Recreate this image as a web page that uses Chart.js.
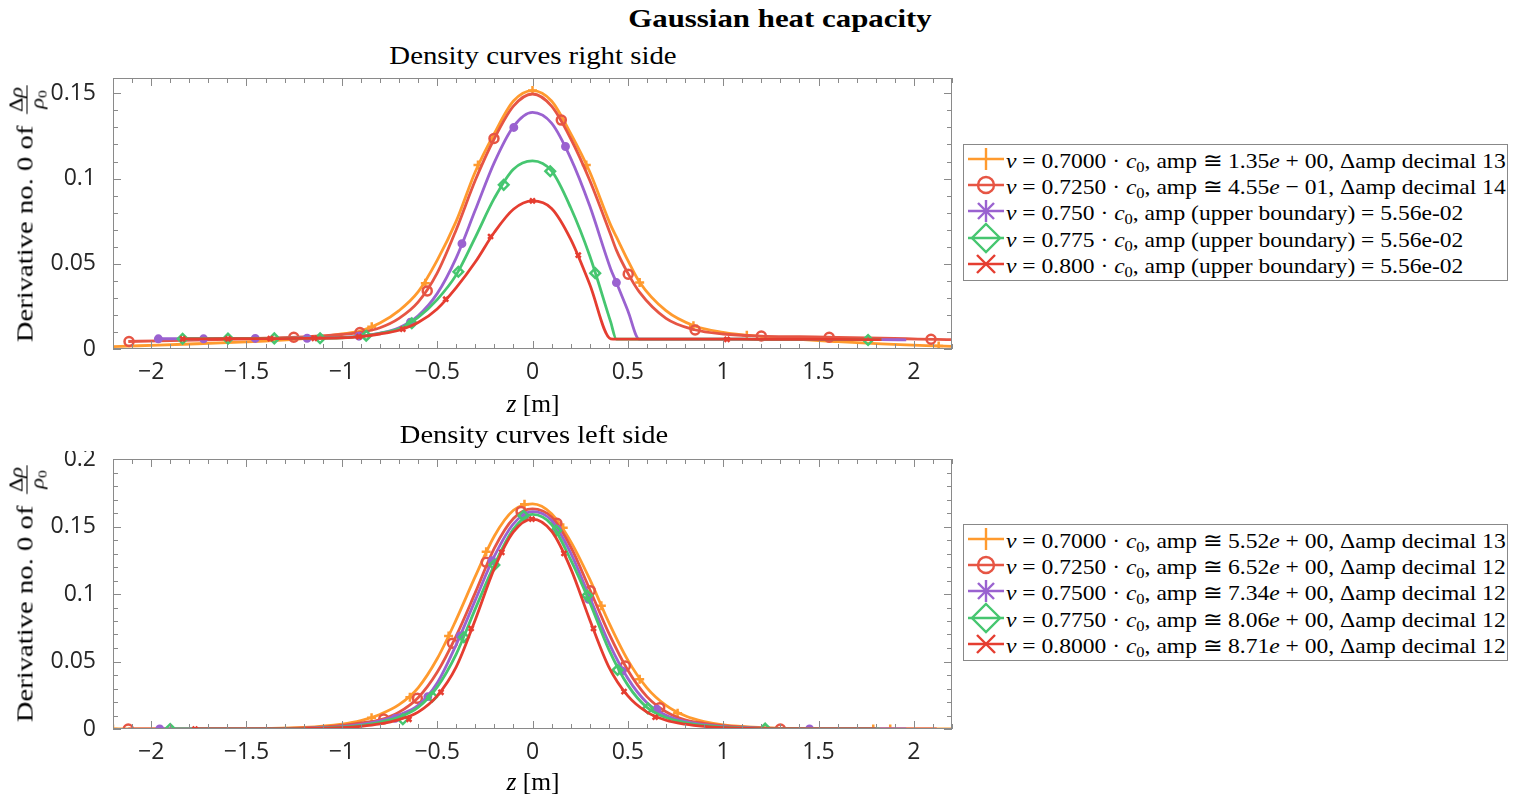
<!DOCTYPE html>
<html lang="en">
<head>
<meta charset="UTF-8">
<title>Gaussian heat capacity</title>
<script src="https://cdn.jsdelivr.net/npm/chart.js@4.4.1/dist/chart.umd.min.js"></script>
<style>
    body {
        margin: 0;
        width: 1515px;
        height: 803px;
        overflow: hidden;
        position: relative;
        background: #fff;
        font-family: "Liberation Serif", serif;
        color: #000;
    }
    .plot { position: absolute; left: 40px; }
    .lbl {
        position: absolute;
        white-space: nowrap;
        line-height: 1;
        transform: translate(-50%, -50%);
    }
    .frac {
        display: inline-block;
        vertical-align: middle;
        text-align: center;
        font-size: 18px;
        line-height: 1.0;
        margin-left: 4px;
    }
    .frac .num { display: block; border-bottom: 1px solid #000; padding: 0 1px 1px; }
    .frac .den { display: block; padding-top: 1px; }
    sub { font-size: 70%; vertical-align: -0.25em; line-height: 0; }
    .legend {
        position: absolute;
        left: 963px;
        width: 545px;
        height: 137px;
        border: 1px solid #888;
        background: #fff;
        box-sizing: border-box;
        padding-top: 3px;
    }
    .row { height: 26.2px; display: flex; align-items: center; position: relative; }
    .row svg { position: absolute; left: 4px; top: -2px; overflow: visible; }
    .txt { position: absolute; left: 42px; top: 3px; transform-origin: 0 0; white-space: nowrap; font-size: 22px; }
    .txt .row { display: block; line-height: 26.2px; }
</style>
</head>
<body>

<div class="lbl" id="suptitle" style="left:780px;top:19px;font-weight:bold;font-size:26px" data-w="304">Gaussian heat capacity</div>

<div class="lbl" style="left:533px;top:55px;font-size:25px" data-w="287">Density curves right side</div>
<div class="plot" style="top:70px"><canvas id="topChart" width="930" height="320"></canvas></div>
<div class="lbl" style="left:533px;top:403px;font-size:25px" data-w="53"><i>z</i> [m]</div>
<div class="lbl ylab" style="left:27px;top:214px;font-size:23px" data-w="257">Derivative no. 0 of <span class="frac"><span class="num">Δ<i>ρ</i></span><span class="den"><i>ρ</i><sub>0</sub></span></span></div>
<div class="legend" id="topLegend" style="top:144px"></div>

<div class="lbl" style="left:534px;top:434px;font-size:25px" data-w="268">Density curves left side</div>
<div class="plot" style="top:451px"><canvas id="botChart" width="930" height="319"></canvas></div>
<div class="lbl" style="left:533px;top:781px;font-size:25px" data-w="53"><i>z</i> [m]</div>
<div class="lbl ylab" style="left:27px;top:594px;font-size:23px" data-w="257">Derivative no. 0 of <span class="frac"><span class="num">Δ<i>ρ</i></span><span class="den"><i>ρ</i><sub>0</sub></span></span></div>
<div class="legend" id="botLegend" style="top:524px"></div>

<script>
// colours / markers, in legend order (0.700, 0.725, 0.750, 0.775, 0.800)
const colors = ['#FF9A2E', '#E65544', '#9A62D0', '#46C670', '#E53D30'];

// axis ticks
const xTickVals = [-2, -1.5, -1, -0.5, 0, 0.5, 1, 1.5, 2];
const xTickLabels = ['−2', '−1.5', '−1', '−0.5', '0', '0.5', '1', '1.5', '2'];
const topYTickVals = [0, 0.05, 0.1, 0.15];
const topYTickLabels = ['0', '0.05', '0.1', '0.15'];
const botYTickVals = [0, 0.05, 0.1, 0.15, 0.2];
const botYTickLabels = ['0', '0.05', '0.1', '0.15', '0.2'];

// ---- right side (top panel) ----
const topZ = [-2.2, -2.12, -1.96, -1.83, -1.6, -1.4, -1.2, -1.0, -0.9, -0.8, -0.7, -0.6, -0.5, -0.4, -0.3, -0.2, -0.1, 0,
              0.1, 0.2, 0.3, 0.41, 0.44, 0.5, 0.56, 0.7, 0.85, 1.0, 1.2, 1.4, 1.6, 1.83, 1.96, 2.12, 2.2];
const top700 = [0.0014, 0.0017, 0.0023, 0.0028, 0.0037, 0.0047, 0.0061, 0.0088, 0.0106, 0.0152, 0.0225, 0.0335, 0.052, 0.075, 0.104, 0.1265, 0.1455, 0.1516,
                0.1455, 0.1265, 0.104, 0.0727, 0.0658, 0.052, 0.0395, 0.0225, 0.0135, 0.0098, 0.0073, 0.0056, 0.0043, 0.003, 0.0024, 0.0018, 0.0015];
const top725 = [null, 0.0044, 0.0048, 0.0051, 0.0057, 0.0063, 0.0071, 0.0085, 0.0098, 0.0125, 0.018, 0.0275, 0.0445, 0.070, 0.099, 0.1235, 0.1425, 0.1496,
                0.1425, 0.1235, 0.099, 0.067, 0.058, 0.0445, 0.0335, 0.018, 0.0113, 0.0088, 0.0076, 0.0072, 0.0068, 0.0063, 0.006, 0.0056, 0.0055];
const top750 = [null, null, 0.006, 0.006, 0.0061, 0.0062, 0.0063, 0.0068, 0.0076, 0.0093, 0.0125, 0.0195, 0.0325, 0.0535, 0.0815, 0.1095, 0.1305, 0.1388,
                0.1325, 0.112, 0.084, 0.047, 0.039, 0.0225, 0.0058, 0.0058, 0.0058, 0.0058, 0.0057, 0.0057, 0.0056, 0.0055, 0.0054, null, null];
const top775 = [null, null, null, 0.006, 0.0061, 0.0062, 0.0063, 0.0066, 0.0074, 0.0092, 0.0118, 0.0185, 0.029, 0.0435, 0.0655, 0.0885, 0.1055, 0.1104,
                0.1045, 0.083, 0.0547, 0.0159, 0.0058, 0.0058, 0.0058, 0.0058, 0.0058, 0.0058, 0.0057, 0.0057, 0.0056, 0.0055, null, null, null];
const top800 = [null, null, null, 0.0059, 0.006, 0.0061, 0.0062, 0.0066, 0.0073, 0.0088, 0.011, 0.0155, 0.0235, 0.036, 0.051, 0.0685, 0.082, 0.0869,
                0.0825, 0.0645, 0.038, 0.006, 0.0058, 0.0058, 0.0058, 0.0058, 0.0058, 0.0058, 0.0057, 0.0057, 0.0056, 0.0055, null, null, null];

const topMarkZ700 = [-0.843, -0.562, -0.286, 0, 0.282, 0.562, 0.844, 1.124, 2.13];
const topMarkV700 = [0.0131, 0.0386, 0.108, 0.1516, 0.108, 0.039, 0.0137, 0.008, 0.0018];
const topMarkZ725 = [-2.116, -1.252, -0.905, -0.552, -0.202, 0.151, 0.502, 0.853, 1.2, 1.556, 2.09];
const topMarkV725 = [0.0044, 0.0069, 0.0097, 0.0341, 0.1235, 0.1343, 0.0439, 0.0112, 0.0076, 0.0069, 0.0057];
const topMarkZ750 = [-1.962, -1.725, -1.454, -1.182, -0.91, -0.64, -0.37, -0.098, 0.173, 0.44];
const topMarkV750 = [0.006, 0.006, 0.0062, 0.0063, 0.0075, 0.0157, 0.0618, 0.130, 0.1188, 0.039];
const topMarkZ775 = [-1.835, -1.597, -1.354, -1.114, -0.872, -0.633, -0.389, -0.151, 0.093, 0.329, 1.76];
const topMarkV775 = [0.006, 0.0061, 0.0062, 0.0063, 0.0078, 0.0151, 0.0453, 0.0963, 0.1043, 0.0445, 0.0053];
const topMarkZ800 = [-1.835, -1.597, -1.375, -1.144, -0.91, -0.68, -0.455, -0.22, 0, 0.24, 1.02];
const topMarkV800 = [0.0059, 0.006, 0.0061, 0.0062, 0.0072, 0.0116, 0.0292, 0.066, 0.0869, 0.0551, 0.0057];

// ---- left side (bottom panel) ----
const botZ = [-2.2, -2.12, -1.955, -1.9, -1.77, -1.6, -1.4, -1.2, -1.0, -0.9, -0.8, -0.7, -0.6, -0.5, -0.4, -0.3, -0.2, -0.1, 0,
              0.1, 0.2, 0.3, 0.4, 0.5, 0.6, 0.7, 0.8, 0.9, 1.0, 1.2, 1.4, 1.6, 1.8, 1.82, 1.96, 2.12, 2.2];
const bot700 = [0, 0, 0, 0, 0, 0.0001, 0.0003, 0.0011, 0.0036, 0.0062, 0.0108, 0.018, 0.0305, 0.052, 0.081, 0.113, 0.143, 0.162, 0.1668,
                0.1595, 0.139, 0.111, 0.079, 0.051, 0.0305, 0.0175, 0.0098, 0.0055, 0.003, 0.001, 0.0003, 0.0001, 0, 0, 0, 0, 0];
const bot725 = [null, 0, 0, 0, 0, 0.0001, 0.0002, 0.0008, 0.0027, 0.0046, 0.0068, 0.0125, 0.0232, 0.042, 0.069, 0.101, 0.134, 0.156, 0.163,
                0.157, 0.135, 0.1035, 0.071, 0.0435, 0.024, 0.0128, 0.0068, 0.0042, 0.0025, 0.0008, 0.0002, 0.0001, 0, 0, 0, 0, null];
const bot750 = [null, null, 0, 0, 0, 0.0001, 0.0001, 0.0005, 0.0018, 0.0034, 0.006, 0.0105, 0.0175, 0.034, 0.0625, 0.0955, 0.128, 0.152, 0.161,
                0.1545, 0.1305, 0.0975, 0.064, 0.0375, 0.0195, 0.0102, 0.0056, 0.0032, 0.0018, 0.0005, 0.0001, 0.0001, 0, 0, 0, null, null];
const bot775 = [null, null, null, 0, 0, 0.0001, 0.0001, 0.0004, 0.0014, 0.0027, 0.005, 0.0088, 0.016, 0.031, 0.0555, 0.089, 0.1215, 0.148, 0.159,
                0.1515, 0.1255, 0.094, 0.059, 0.0325, 0.016, 0.0085, 0.0048, 0.0026, 0.0014, 0.0004, 0.0001, 0.0001, 0, 0, null, null, null];
const bot800 = [null, null, null, null, 0, 0.0001, 0.0001, 0.0003, 0.001, 0.002, 0.0038, 0.007, 0.0125, 0.0245, 0.046, 0.081, 0.119, 0.146, 0.1555,
                0.1465, 0.119, 0.081, 0.046, 0.0245, 0.0125, 0.0065, 0.0036, 0.0019, 0.001, 0.0003, 0.0001, 0.0001, 0, null, null, null, null];

const botMarkZ700 = [-2.2, -0.844, -0.643, -0.44, -0.243, -0.042, 0.161, 0.361, 0.562, 0.761, 1.787, 1.876];
const botMarkV700 = [0, 0.0084, 0.0235, 0.0689, 0.1313, 0.1664, 0.149, 0.0913, 0.0368, 0.0116, 0, 0];
const botMarkZ725 = [-2.12, -0.78, -0.604, -0.42, -0.243, -0.06, 0.128, 0.303, 0.487, 0.667, 1.30];
const botMarkV725 = [0, 0.0074, 0.0227, 0.0635, 0.1235, 0.1612, 0.1524, 0.1025, 0.0467, 0.0158, 0];
const botMarkZ750 = [-1.955, -0.72, -0.549, -0.38, -0.212, -0.04, 0.13, 0.294, 0.47, 0.652, 1.453];
const botMarkV750 = [0, 0.0079, 0.024, 0.069, 0.1247, 0.158, 0.148, 0.096, 0.043, 0.0146, 0];
const botMarkZ775 = [-1.9, -0.68, -0.526, -0.36, -0.2, -0.047, 0.124, 0.287, 0.446, 0.605, 1.22];
const botMarkV775 = [0, 0.0072, 0.0239, 0.068, 0.1215, 0.158, 0.1469, 0.0988, 0.0437, 0.0153, 0.0003];
const botMarkZ800 = [-1.77, -0.648, -0.48, -0.322, -0.161, -0.003, 0.165, 0.32, 0.48, 0.643];
const botMarkV800 = [0, 0.0072, 0.0272, 0.0746, 0.1309, 0.1555, 0.1301, 0.0746, 0.0277, 0.0087];

const topLegendLabels = [
    '<i>v</i> = 0.7000 · <i>c</i><sub>0</sub>, amp ≅ 1.35<i>e</i> + 00, Δamp decimal 13',
    '<i>v</i> = 0.7250 · <i>c</i><sub>0</sub>, amp ≅ 4.55<i>e</i> − 01, Δamp decimal 14',
    '<i>v</i> = 0.750 · <i>c</i><sub>0</sub>, amp (upper boundary) = 5.56e-02',
    '<i>v</i> = 0.775 · <i>c</i><sub>0</sub>, amp (upper boundary) = 5.56e-02',
    '<i>v</i> = 0.800 · <i>c</i><sub>0</sub>, amp (upper boundary) = 5.56e-02'
];
const botLegendLabels = [
    '<i>v</i> = 0.7000 · <i>c</i><sub>0</sub>, amp ≅ 5.52<i>e</i> + 00, Δamp decimal 13',
    '<i>v</i> = 0.7250 · <i>c</i><sub>0</sub>, amp ≅ 6.52<i>e</i> + 00, Δamp decimal 12',
    '<i>v</i> = 0.7500 · <i>c</i><sub>0</sub>, amp ≅ 7.34<i>e</i> + 00, Δamp decimal 12',
    '<i>v</i> = 0.7750 · <i>c</i><sub>0</sub>, amp ≅ 8.06<i>e</i> + 00, Δamp decimal 12',
    '<i>v</i> = 0.8000 · <i>c</i><sub>0</sub>, amp ≅ 8.71<i>e</i> + 00, Δamp decimal 12'
];

// plot marker look per series: +, o, * (tiny, looks like a dot), diamond, x
const markStyle = ['cross', 'circle', 'circle', 'rectRot', 'crossRot'];
const markRadius = [4.5, 4.5, 3.2, 4.8, 3.5];
const markFill = [false, false, true, false, false];

Chart.defaults.font.family = '"Open Sans", "Noto Sans", sans-serif';
Chart.defaults.font.size = 23;
Chart.defaults.color = '#262626';

// MATLAB-style box with inward ticks on all four sides
const boxTicks = {
    id: 'boxTicks',
    afterDatasetsDraw(chart) {
        const { ctx, chartArea: a, scales: { x, y } } = chart;
        ctx.save();
        ctx.strokeStyle = '#8a8a8a';
        ctx.lineWidth = 1;
        ctx.beginPath();
        for (let k = -22; k <= 22; k++) {
            const px = Math.round(x.getPixelForValue(k / 10)) + 0.5;
            const len = k % 5 === 0 ? 8 : 5;
            ctx.moveTo(px, a.bottom); ctx.lineTo(px, a.bottom - len);
            ctx.moveTo(px, a.top); ctx.lineTo(px, a.top + len);
        }
        for (let k = 0; k / 100 <= y.max + 1e-9; k++) {
            const py = Math.round(y.getPixelForValue(k / 100)) + 0.5;
            const len = k % 5 === 0 ? 8 : 5;
            ctx.moveTo(a.left, py); ctx.lineTo(a.left + len, py);
            ctx.moveTo(a.right, py); ctx.lineTo(a.right - len, py);
        }
        ctx.stroke();
        ctx.strokeRect(Math.round(a.left) + 0.5, Math.round(a.top) + 0.5, Math.round(a.width) - 1, Math.round(a.height) - 1);
        ctx.restore();
    }
};

function toPoints(xs, ys) {
    const pts = [];
    for (let i = 0; i < xs.length; i++) {
        if (ys[i] !== null) pts.push({ x: xs[i], y: ys[i] });
    }
    return pts;
}

function makeChart(id, z, curves, marks, yMax, yVals, yLabels) {
    const datasets = [];
    curves.forEach((v, i) => {
        datasets.push({
            data: toPoints(z, v),
            showLine: true,
            borderColor: colors[i],
            borderWidth: 2.8,
            pointRadius: 0,
            pointHoverRadius: 0,
            cubicInterpolationMode: 'monotone',
            order: 10 - 2 * i
        });
        datasets.push({
            data: toPoints(marks[i][0], marks[i][1]),
            showLine: false,
            pointStyle: markStyle[i],
            pointRadius: markRadius[i],
            pointBorderColor: colors[i],
            pointBackgroundColor: markFill[i] ? colors[i] : 'rgba(0,0,0,0)',
            pointBorderWidth: 2.5,
            order: 9 - 2 * i
        });
    });

    return new Chart(document.getElementById(id), {
        type: 'scatter',
        data: { datasets },
        options: {
            responsive: false,
            animation: false,
            devicePixelRatio: 1,
            events: [],
            layout: { padding: { left: 0, right: 18, top: 8, bottom: 0 } },
            plugins: { legend: { display: false }, tooltip: { enabled: false } },
            scales: {
                x: {
                    type: 'linear',
                    min: -2.2,
                    max: 2.2,
                    grid: { display: false },
                    border: { display: false },
                    afterFit: s => { s.height = 41; s.paddingLeft = 0; s.paddingRight = 0; },
                    afterBuildTicks: s => { s.ticks = xTickVals.map(v => ({ value: v })); },
                    ticks: { padding: 2, maxRotation: 0, autoSkip: false, callback: (v, i) => xTickLabels[i] }
                },
                y: {
                    type: 'linear',
                    min: 0,
                    max: yMax,
                    grid: { display: false },
                    border: { display: false },
                    afterFit: s => { s.width = 73; s.paddingTop = 0; s.paddingBottom = 0; },
                    afterBuildTicks: s => { s.ticks = yVals.map(v => ({ value: v })); },
                    ticks: { padding: 9, autoSkip: false, callback: (v, i) => yLabels[i] }
                }
            }
        },
        plugins: [boxTicks]
    });
}

makeChart('topChart', topZ, [top700, top725, top750, top775, top800],
    [[topMarkZ700, topMarkV700], [topMarkZ725, topMarkV725], [topMarkZ750, topMarkV750],
     [topMarkZ775, topMarkV775], [topMarkZ800, topMarkV800]],
    0.159, topYTickVals, topYTickLabels);

makeChart('botChart', botZ, [bot700, bot725, bot750, bot775, bot800],
    [[botMarkZ700, botMarkV700], [botMarkZ725, botMarkV725], [botMarkZ750, botMarkV750],
     [botMarkZ775, botMarkV775], [botMarkZ800, botMarkV800]],
    0.2, botYTickVals, botYTickLabels);

// legend glyphs (big MATLAB legend markers over a short line)
function legendIcon(i) {
    const c = colors[i];
    let m = '';
    if (i === 0) m = `<line x1="18" y1="2" x2="18" y2="24" />`;
    if (i === 1) m = `<circle cx="18" cy="13" r="8" fill="none" />`;
    if (i === 2) m = `<line x1="18" y1="2" x2="18" y2="24" /><line x1="10" y1="5" x2="26" y2="21" /><line x1="26" y1="5" x2="10" y2="21" />`;
    if (i === 3) m = `<polygon points="18,-1 32,13 18,27 4,13" fill="none" />`;
    if (i === 4) m = `<line x1="9" y1="4" x2="27" y2="22" /><line x1="27" y1="4" x2="9" y2="22" />`;
    return `<svg width="36" height="26" stroke="${c}" stroke-width="2.4"><line x1="0" y1="13" x2="36" y2="13" />${m}</svg>`;
}

function buildLegend(id, labels) {
    const box = document.getElementById(id);
    let icons = '';
    labels.forEach((l, i) => { icons += `<div class="row">${legendIcon(i)}</div>`; });
    box.innerHTML = icons + `<div class="txt">${labels.map(l => `<span class="row">${l}</span>`).join('')}</div>`;
    const txt = box.querySelector('.txt');
    const s = 500 / txt.offsetWidth;
    txt.style.transform = `scaleX(${s})`;
}
buildLegend('topLegend', topLegendLabels);
buildLegend('botLegend', botLegendLabels);

// stretch the serif labels to the widths of the LaTeX originals
document.querySelectorAll('.lbl[data-w]').forEach(el => {
    const s = +el.dataset.w / el.offsetWidth;
    const rot = el.classList.contains('ylab') ? ' rotate(-90deg)' : '';
    el.style.transform = `translate(-50%, -50%)${rot} scaleX(${s})`;
});
</script>
</body>
</html>
